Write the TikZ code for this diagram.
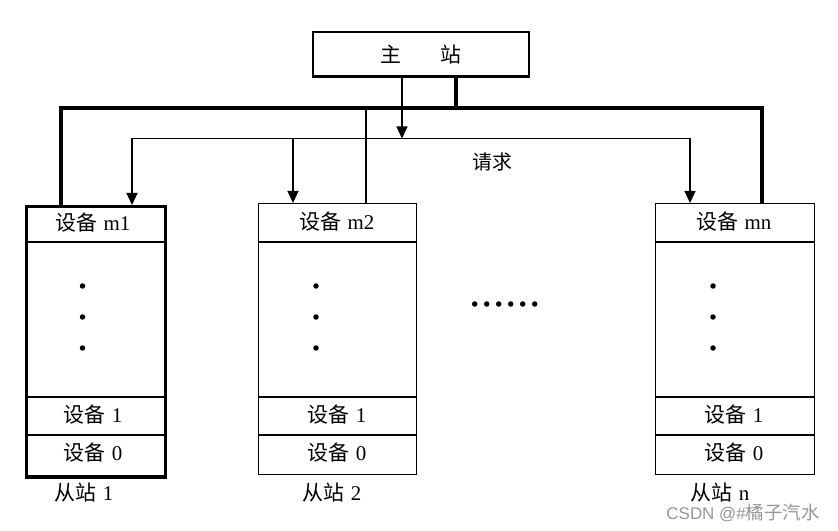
\documentclass[tikz,border=0pt]{standalone}
\usepackage{fontspec}
\setmainfont{Liberation Serif}
\newfontfamily\cjk{Noto Sans CJK SC}
\newfontfamily\wmsans{Liberation Sans}
\usetikzlibrary{arrows.meta}
\newcommand\zhtext[1]{{\cjk #1}}
\definecolor{wmgray}{RGB}{150,150,150}
\begin{document}
\begin{tikzpicture}[x=1bp,y=-1bp,
  thinln/.style={line width=1.2bp},
  thickln/.style={line width=4bp},
  arr/.style={thinln,-{Triangle[length=12bp,width=11bp]}},
  lbl/.style={font=\fontsize{21}{25}\selectfont, inner sep=0pt},
  boxn/.style={draw, inner sep=0pt, anchor=north west},
  dotn/.style={circle, fill=black, inner sep=0pt, minimum size=5.5bp}
]
\path[use as bounding box] (0,0) rectangle (838,531);

% master station
\node[draw, line width=2.5bp, minimum width=216bp, minimum height=44.5bp, inner sep=0pt,
      lbl] (master) at (421,54.25) {\zhtext{主}\hspace{1.85em}\zhtext{站}};

% slave boxes
\node[boxn, line width=3.5bp, minimum width=139bp, minimum height=270bp] (s1) at (24.5,205) {};
\node[boxn, thinln, minimum width=158bp, minimum height=271bp] (s2) at (258,203) {};
\node[boxn, thinln, minimum width=159.5bp, minimum height=271bp] (sn) at (654.5,203) {};

% dividers
\foreach \b in {s1,s2,sn}{
  \draw[thinln] (\b.west |- 0,242) -- (\b.east |- 0,242);
  \draw[thinln] (\b.west |- 0,397) -- (\b.east |- 0,397);
  \draw[thinln] (\b.west |- 0,435) -- (\b.east |- 0,435);
}

% row texts
\node[lbl] (s1h) at (93,223) {\zhtext{设备}\hspace{0.3em}m1};
\node[lbl] (s1a) at (93,415) {\zhtext{设备}\hspace{0.3em}1};
\node[lbl] (s1b) at (93,453) {\zhtext{设备}\hspace{0.3em}0};
\node[lbl] (s2h) at (337,222) {\zhtext{设备}\hspace{0.3em}m2};
\node[lbl] (s2a) at (337,415) {\zhtext{设备}\hspace{0.3em}1};
\node[lbl] (s2b) at (337,453) {\zhtext{设备}\hspace{0.3em}0};
\node[lbl] (snh) at (734,222) {\zhtext{设备}\hspace{0.3em}mn};
\node[lbl] (sna) at (734,415) {\zhtext{设备}\hspace{0.3em}1};
\node[lbl] (snb) at (734,453) {\zhtext{设备}\hspace{0.3em}0};

% vertical dots
\foreach \b/\x in {s1/82.5,s2/316,sn/713}{
  \node[dotn] (\b d1) at (\x,286) {};
  \node[dotn] (\b d2) at (\x,317) {};
  \node[dotn] (\b d3) at (\x,348) {};
}
% horizontal dots
\foreach \i in {0,...,5}{
  \node[dotn] (hd\i) at (474.7+12*\i,304) {};
}

% labels below
\node[lbl] (l1) at (84,493) {\zhtext{从站}\hspace{0.3em}1};
\node[lbl] (l2) at (332,493) {\zhtext{从站}\hspace{0.3em}2};
\node[lbl] (ln) at (720,493) {\zhtext{从站}\hspace{0.3em}n};

% bus coordinates
\coordinate (busL) at (60.5,108);
\coordinate (busR) at (762,108);
\coordinate (busM) at (456,108);
\coordinate (busT) at (366,108);
\draw[thickln] (s1.north -| busL) -- (busL) -- (busR) -- (sn.north -| busR);
\draw[thickln] (master.south -| busM) -- (busM);
\draw[thinln] (busT) -- (s2.north -| busT);

% request line
\coordinate (reqM) at (402,138.5);
\coordinate (reqA) at (132,138.5);
\coordinate (reqB) at (293,138.5);
\coordinate (reqC) at (690,138.5);
\draw[arr] (master.south -| reqM) -- (reqM);
\draw[thinln] (reqA) -- (reqC);
\draw[arr] (reqA) -- (s1.north -| reqA);
\draw[arr] (reqB) -- (s2.north -| reqB);
\draw[arr] (reqC) -- (sn.north -| reqC);
\node[lbl, font=\fontsize{20}{24}\selectfont] (req) at (492,162) {\zhtext{请求}};

% watermark
\node[inner sep=0pt, text=wmgray] (wm) at (743,513)
  {{\wmsans\fontsize{17}{20}\selectfont CSDN @\#}{\cjk\fontsize{18.5}{20}\selectfont 橘子汽水}};
\end{tikzpicture}
\end{document}
